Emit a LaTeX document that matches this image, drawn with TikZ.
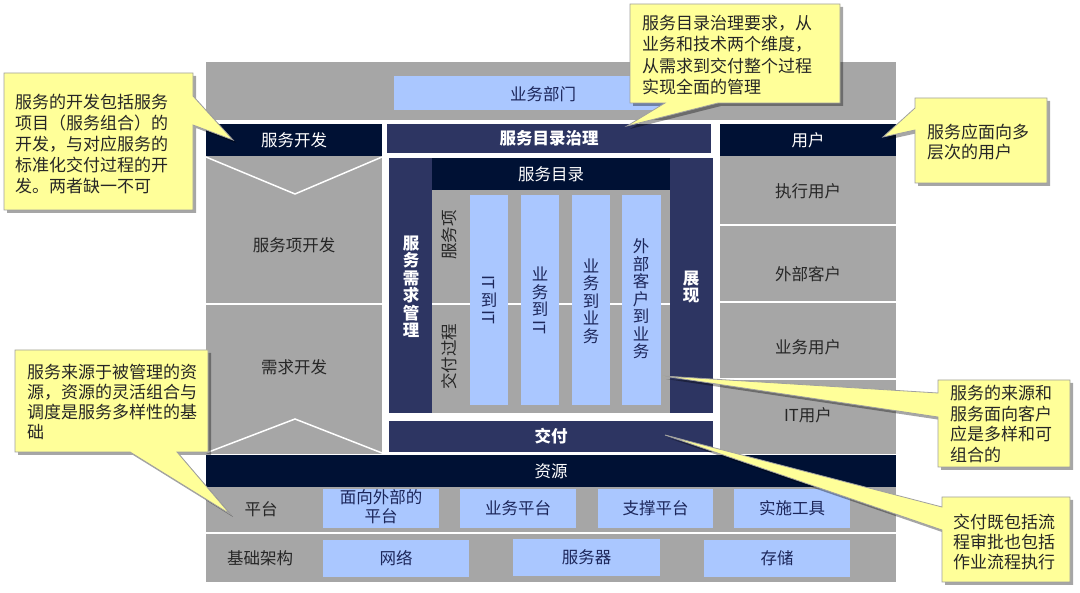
\documentclass[tikz,border=0pt]{standalone}
\usepackage{fontspec}
\usepackage{graphicx}
\setmainfont{Noto Sans CJK SC}
\usetikzlibrary{fit,shadows}
\definecolor{gr}{RGB}{166,166,166}
\definecolor{lb}{RGB}{170,199,255}
\definecolor{dn}{RGB}{0,17,52}
\definecolor{nv}{RGB}{45,53,98}
\definecolor{bt}{RGB}{28,38,90}
\definecolor{cy}{RGB}{255,255,153}
\definecolor{cb}{RGB}{160,160,160}
\definecolor{tx}{RGB}{38,38,38}
\newcommand\rIT{\rotatebox[origin=c]{-90}{IT}}
\tikzset{
  area/.style={inner sep=0pt, outer sep=0pt, draw=none},
  grayarea/.style={area, fill=gr},
  darkbar/.style={area, fill=dn},
  navybar/.style={area, fill=nv},
  bluebox/.style={area, fill=lb},
  lbl/.style={inner sep=0pt, text=tx},
  wlbl/.style={inner sep=0pt, text=white},
  blbl/.style={inner sep=0pt, text=white, font=\fontsize{16.5}{18}\selectfont\bfseries},
  tlbl/.style={inner sep=0pt, text=bt},
  vtext/.style={inner sep=0pt, align=center, font=\fontsize{16.5}{17.5}\selectfont},
  wline/.style={draw=white, line width=1.5pt},
  callout/.style={fill=cy, draw=cb, line width=0.8pt,
    drop shadow={shadow xshift=3pt, shadow yshift=-3pt, fill=black, opacity=0.35}},
  ctext/.style={inner sep=0pt, anchor=west, align=left, text=black!85}
}
\begin{document}
\begin{tikzpicture}[x=1pt,y=-1pt, every node/.style={font=\fontsize{16.5}{19}\selectfont}]
\useasboundingbox (0,0) rectangle (1080,593);
\fill[white] (0,0) rectangle (1080,593);

% top band
\node[grayarea, fit={(206,62)(896,120)}] (topband) {};
\node[bluebox, fit={(394,76)(688,110)}] (dept) {};
\node[tlbl] (deptt) at (543,94) {业务部门};

% header row
\node[darkbar, fit={(206,124)(382,156)}] (dev) {};
\node[wlbl] (devt) at (dev.center) {服务开发};
\node[navybar, fit={(387,124)(711,153)}] (gov) {};
\node[blbl] (govt) at (gov.center) {服务目录治理};
\node[darkbar, fit={(720,124)(896,156)}] (user) {};
\node[wlbl] (usert) at (user.center) {用户};

% left column
\node[grayarea, fit={(206,156)(382,454)}] (leftcol) {};
\coordinate (v1) at (206,157);
\coordinate (v2) at (295,194);
\coordinate (v3) at (382,157);
\coordinate (w1) at (206,453);
\coordinate (w2) at (295,419);
\coordinate (w3) at (382,453);
\coordinate (h1) at (206,304);
\coordinate (h2) at (382,304);
\draw[wline] (v1) -- (v2) -- (v3);
\draw[wline] (w1) -- (w2) -- (w3);
\draw[wline] (h1) -- (h2);
\node[lbl] (itemdev) at (294,245) {服务项开发};
\node[lbl] (reqdev) at (294,367) {需求开发};

% right column
\node[grayarea, fit={(720,156)(896,224)}] (u1) {};
\node[grayarea, fit={(720,226)(896,301.5)}] (u2) {};
\node[grayarea, fit={(720,303)(896,378.5)}] (u3) {};
\node[grayarea, fit={(720,380)(896,454)}] (u4) {};
\node[lbl] (u1t) at (808,191) {执行用户};
\node[lbl] (u2t) at (808,274) {外部客户};
\node[lbl] (u3t) at (808,347) {业务用户};
\node[lbl] (u4t) at (808,415) {IT用户};

% middle block
\node[navybar, fit={(389,158)(432,413)}] (reqmgmt) {};
\node[vtext, text=white, font=\fontsize{16.5}{17.5}\selectfont\bfseries] (reqmgmtt) at (411,287) {服\\务\\需\\求\\管\\理};
\node[navybar, fit={(670,158)(713,413)}] (show) {};
\node[vtext, text=white, font=\fontsize{16.5}{17.5}\selectfont\bfseries] (showt) at (691,287) {展\\现};
\node[darkbar, fit={(432,158)(670,190)}] (cat) {};
\node[wlbl] (catt) at (cat.center) {服务目录};
\node[grayarea, fit={(432,190)(670,413)}] (inner) {};
\coordinate (ih1) at (432,304);
\coordinate (ih2) at (670,304);
\draw[wline] (ih1) -- (ih2);
\node[lbl, rotate=90] (itemlbl) at (449,235) {服务项};
\node[lbl, rotate=90] (proclbl) at (449,357) {交付过程};
\node[bluebox, fit={(470,195)(508,405)}] (col1) {};
\node[bluebox, fit={(521,195)(559,405)}] (col2) {};
\node[bluebox, fit={(572,195)(610,405)}] (col3) {};
\node[bluebox, fit={(622,195)(661,405)}] (col4) {};
\node[vtext, text=bt] (col1t) at (489,300) {\rIT\\到\\\rIT};
\node[vtext, text=bt] (col2t) at (540,301) {业\\务\\到\\\rIT};
\node[vtext, text=bt] (col3t) at (591,301) {业\\务\\到\\业\\务};
\node[vtext, text=bt] (col4t) at (641,299) {外\\部\\客\\户\\到\\业\\务};
\node[navybar, fit={(389,421)(713,452)}] (deliv) {};
\node[blbl] (delivt) at (deliv.center) {交付};

% resources
\node[darkbar, fit={(206,455)(896,487)}] (res) {};
\node[wlbl] (rest) at (res.center) {资源};
\node[grayarea, fit={(206,487)(896,532)}] (platrow) {};
\node[grayarea, fit={(206,534.5)(896,582)}] (infrow) {};
\node[lbl] (platt) at (261,509) {平台};
\node[lbl] (inft) at (260,558) {基础架构};
\node[bluebox, fit={(323,489)(439,528)}] (p1) {};
\node[tlbl, align=center, font=\fontsize{16.5}{19.5}\selectfont] (p1t) at ([yshift=2pt]p1.center) {面向外部的\\平台};
\node[bluebox, fit={(460,489)(576,528)}] (p2) {};
\node[tlbl] (p2t) at (p2.center) {业务平台};
\node[bluebox, fit={(598,489)(713,528)}] (p3) {};
\node[tlbl] (p3t) at (p3.center) {支撑平台};
\node[bluebox, fit={(734,489)(850,528)}] (p4) {};
\node[tlbl] (p4t) at (p4.center) {实施工具};
\node[bluebox, fit={(323,540)(469,577)}] (i1) {};
\node[tlbl] (i1t) at (i1.center) {网络};
\node[bluebox, fit={(513,539)(660,576)}] (i2) {};
\node[tlbl] (i2t) at (i2.center) {服务器};
\node[bluebox, fit={(704,540)(850,577)}] (i3) {};
\node[tlbl] (i3t) at (i3.center) {存储};

% callouts
\path[callout] (4,73) -- (193,73) -- (193,96) -- (233,140) -- (193,125) -- (193,210) -- (4,210) -- cycle;
\node[ctext, font=\fontsize{17}{21}\selectfont] (c1) at (15,144) {服务的开发包括服务\\项目（服务组合）的\\开发，与对应服务的\\标准化交付过程的开\\发。两者缺一不可};

\path[callout] (630,4) -- (840,4) -- (840,103) -- (718,103) -- (627,126) -- (665,103) -- (630,103) -- cycle;
\node[ctext, font=\fontsize{17}{21.3}\selectfont] (c2) at (642,55) {服务目录治理要求，从\\业务和技术两个维度，\\从需求到交付整个过程\\实现全面的管理};

\path[callout] (915,98) -- (1047,98) -- (1047,183) -- (915,183) -- (915,130) -- (883,137) -- (915,108) -- cycle;
\node[ctext, font=\fontsize{17}{20.5}\selectfont] (c3) at (927,142) {服务应面向多\\层次的用户};

\path[callout] (15,350) -- (208,350) -- (208,452) -- (177,452) -- (230,514) -- (130,452) -- (15,452) -- cycle;
\node[ctext, font=\fontsize{17}{20}\selectfont] (c4) at (27,402) {服务来源于被管理的资\\源，资源的灵活组合与\\调度是服务多样性的基\\础};

\path[callout] (938,380) -- (1070,380) -- (1070,467) -- (938,467) -- (938,417) -- (663,376) -- (938,393) -- cycle;
\node[ctext, font=\fontsize{17}{20.7}\selectfont] (c5) at (950,424) {服务的来源和\\服务面向客户\\应是多样和可\\组合的};

\path[callout] (942,497) -- (1070,497) -- (1070,582) -- (942,582) -- (942,530) -- (665,435) -- (942,507) -- cycle;
\node[ctext, font=\fontsize{17}{20}\selectfont] (c6) at (953,542) {交付既包括流\\程审批也包括\\作业流程执行};
\end{tikzpicture}
\end{document}
